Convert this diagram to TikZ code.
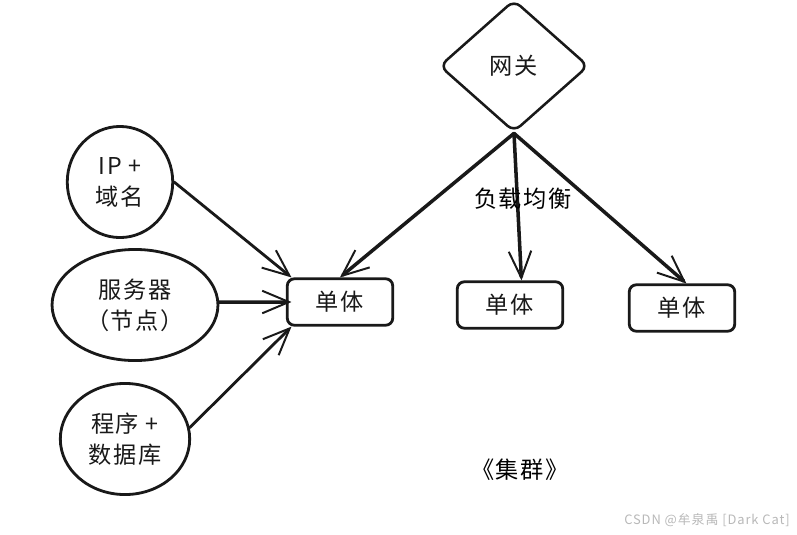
\documentclass[tikz,border=0pt]{standalone}
\usepackage{fontspec}
\usepackage{tikz}
\usepackage{xcolor}
\usetikzlibrary{shapes.geometric,arrows.meta}
\setmainfont[LetterSpace=7]{Noto Sans CJK SC}
\tikzset{
  sketchline/.style={line width=2pt,black!90,line cap=round,line join=round},
  sketchnode/.style={sketchline,draw,inner sep=0pt,align=center,font=\fontsize{16.5}{22}\selectfont},
  blob/.style={sketchnode,ellipse},
  unitbox/.style={sketchnode,rectangle,rounded corners=5pt,minimum width=75pt,minimum height=33pt},
  gatebox/.style={sketchnode,diamond,rounded corners=6pt,line width=1.8pt,minimum width=106pt,minimum height=94pt,aspect=1.13},
  sketcharrow/.style={sketchline,-{Straight Barb[length=19pt,width=16pt,line width=1.4pt]}},
  heavyarrow/.style={sketcharrow,line width=2.5pt},
  plainlabel/.style={inner sep=0pt,font=\fontsize{16.5}{22}\selectfont}
}

\begin{document}
\begin{tikzpicture}[x=0.025cm,y=-0.025cm]
\useasboundingbox (0,0) rectangle (797,534);
\node[gatebox] (gate) at (514,66) {网关};
\node[blob,minimum width=75pt,minimum height=79pt] (ip) at (120,182) {IP +\\域名};
\node[blob,minimum width=118pt,minimum height=79pt] (server) at (135,305) {服务器\\（节点）};
\node[blob,minimum width=92pt,minimum height=79pt] (prog) at (125,439) {程序 +\\数据库};
\node[unitbox] (unitA) at (340,302) {单体};
\node[unitbox] (unitB) at (510,305) {单体};
\node[unitbox] (unitC) at (682,308) {单体};
\draw[sketcharrow] (ip.east) -- ([xshift=4pt]unitA.north west);
\draw[heavyarrow] (server.2) -- ([xshift=4pt]unitA.west);
\draw[sketcharrow] (prog.10) -- ([xshift=4pt]unitA.south west);
\draw[heavyarrow] (gate.south) -- (unitA.north);
\draw[heavyarrow] (gate.south) -- (unitB.65);
\draw[heavyarrow] (gate.south) -- (unitC.80);
\node[plainlabel] (balance) at (523,199) {负载均衡};
\node[plainlabel] (cluster) at (520,470) {《集群》};
\node[inner sep=0pt,black!28,font=\fontsize{9.2}{11}\selectfont] (mark) at (707,520) {CSDN @牟泉禹 [Dark Cat]};
\end{tikzpicture}
\end{document}
